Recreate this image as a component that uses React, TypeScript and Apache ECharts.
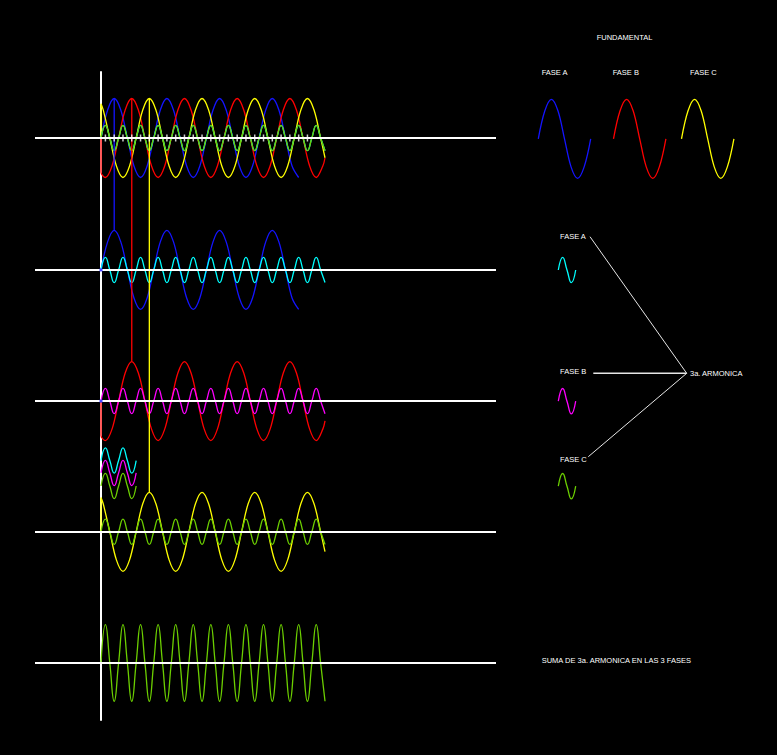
import { useEffect, useRef } from "react";
import * as echarts from "echarts";

// ---------------- DATA ----------------
// x: electrical angle in degrees of the fundamental, y: per-unit value

// Fundamental, phase A (blue): starts at 0, ends on a trough at 1350°
const phaseA: [number, number][] = [
  [0, 0], [45, 0.71], [90, 1], [135, 0.71], [180, 0], [225, -0.71], [270, -1], [315, -0.71],
  [360, 0], [405, 0.71], [450, 1], [495, 0.71], [540, 0], [585, -0.71], [630, -1], [675, -0.71],
  [720, 0], [765, 0.71], [810, 1], [855, 0.71], [900, 0], [945, -0.71], [990, -1], [1035, -0.71],
  [1080, 0], [1125, 0.71], [1170, 1], [1215, 0.71], [1260, 0], [1305, -0.71], [1350, -1],
];

// Fundamental, phase B (red): lags A by 120°
const phaseB: [number, number][] = [
  [0, 0], [0, -0.87], [30, -1], [75, -0.71], [120, 0], [165, 0.71], [210, 1], [255, 0.71], [300, 0], [345, -0.71],
  [390, -1], [435, -0.71], [480, 0], [525, 0.71], [570, 1], [615, 0.71], [660, 0], [705, -0.71],
  [750, -1], [795, -0.71], [840, 0], [885, 0.71], [930, 1], [975, 0.71], [1020, 0], [1065, -0.71],
  [1110, -1], [1155, -0.71], [1200, 0], [1245, 0.71], [1290, 1], [1335, 0.71], [1380, 0], [1425, -0.71],
  [1470, -1], [1515, -0.71], [1530, -0.5],
];

// Fundamental, phase C (yellow): leads A by 120°
const phaseC: [number, number][] = [
  [0, 0], [0, 0.87], [15, 0.71], [60, 0], [105, -0.71], [150, -1], [195, -0.71], [240, 0], [285, 0.71], [330, 1],
  [375, 0.71], [420, 0], [465, -0.71], [510, -1], [555, -0.71], [600, 0], [645, 0.71], [690, 1],
  [735, 0.71], [780, 0], [825, -0.71], [870, -1], [915, -0.71], [960, 0], [1005, 0.71], [1050, 1],
  [1095, 0.71], [1140, 0], [1185, -0.71], [1230, -1], [1275, -0.71], [1320, 0], [1365, 0.71], [1410, 1],
  [1455, 0.71], [1500, 0], [1530, -0.5],
];

// Third harmonic readings, one value every 30° of the fundamental (0° … 1530°)
const HARMONIC_STEP_DEG = 30;
const thirdHarmonicA = [
  0, 0.32, 0, -0.32, 0, 0.32, 0, -0.32, 0, 0.32, 0, -0.32, 0, 0.32, 0, -0.32,
  0, 0.32, 0, -0.32, 0, 0.32, 0, -0.32, 0, 0.32, 0, -0.32, 0, 0.32, 0, -0.32,
  0, 0.32, 0, -0.32, 0, 0.32, 0, -0.32, 0, 0.32, 0, -0.32, 0, 0.32, 0, -0.32,
  0, 0.32, 0, -0.32,
];
const thirdHarmonicB = [
  0, 0.32, 0, -0.32, 0, 0.32, 0, -0.32, 0, 0.32, 0, -0.32, 0, 0.32, 0, -0.32,
  0, 0.32, 0, -0.32, 0, 0.32, 0, -0.32, 0, 0.32, 0, -0.32, 0, 0.32, 0, -0.32,
  0, 0.32, 0, -0.32, 0, 0.32, 0, -0.32, 0, 0.32, 0, -0.32, 0, 0.32, 0, -0.32,
  0, 0.32, 0, -0.32,
];
const thirdHarmonicC = [
  0, 0.32, 0, -0.32, 0, 0.32, 0, -0.32, 0, 0.32, 0, -0.32, 0, 0.32, 0, -0.32,
  0, 0.32, 0, -0.32, 0, 0.32, 0, -0.32, 0, 0.32, 0, -0.32, 0, 0.32, 0, -0.32,
  0, 0.32, 0, -0.32, 0, 0.32, 0, -0.32, 0, 0.32, 0, -0.32, 0, 0.32, 0, -0.32,
  0, 0.32, 0, -0.32,
];
// Sum of the third harmonics of the 3 phases
const thirdHarmonicSum = [
  0, 0.97, 0, -0.97, 0, 0.97, 0, -0.97, 0, 0.97, 0, -0.97, 0, 0.97, 0, -0.97,
  0, 0.97, 0, -0.97, 0, 0.97, 0, -0.97, 0, 0.97, 0, -0.97, 0, 0.97, 0, -0.97,
  0, 0.97, 0, -0.97, 0, 0.97, 0, -0.97, 0, 0.97, 0, -0.97, 0, 0.97, 0, -0.97,
  0, 0.97, 0, -0.97,
];
// Short overlay showing the three harmonics in phase (0° … 240°)
const harmonicDetailA = [0, 0.32, 0, -0.32, 0, 0.32, 0, -0.32, 0];
const harmonicDetailB = [0, 0.32, 0, -0.32, 0, 0.32, 0, -0.32, 0];
const harmonicDetailC = [0, 0.32, 0, -0.32, 0, 0.32, 0, -0.32, 0];

// Tick marks on the first axis (harmonic peaks), degrees
const harmonicTicks = [
  30, 90, 150, 210, 270, 330, 390, 450, 510, 570, 630, 690,
  750, 810, 870, 930, 990, 1050, 1110, 1170, 1230, 1290, 1350, 1410,
];

// Peaks of each phase, joined by vertical lines (degrees)
const peakAngleA = 90;
const peakAngleB = 210;
const peakAngleC = 330;

// Legend samples: one cycle each (own degrees)
const fundamentalCycle: [number, number][] = [
  [0, 0], [45, 0.71], [90, 1], [135, 0.71], [180, 0], [225, -0.71], [270, -1], [315, -0.71], [360, 0],
];
const harmonicCycle: [number, number][] = [[0, 0], [90, 1], [180, 0], [270, -1], [360, 0]];

// Texts
const titleFund = "FUNDAMENTAL";
const phaseLabels = ["FASE A", "FASE B", "FASE C"];
const harmonicLabel = "3a. ARMONICA";
const sumLabel = "SUMA DE 3a. ARMONICA EN LAS 3 FASES";

// ---------------- LAYOUT / STYLE ----------------
const W = 777;
const H = 755;
const MAIN = { left: 35, top: 72, width: 461, height: 648 };
const X_MIN = -451;
const X_MAX = 2698;
const Y_MIN = -14.734;
const Y_MAX = 1.671;
const PANEL_BASE = [0, -3.34, -6.66, -9.97, -13.29];
const DETAIL_BASE = [-8.165, -8.48, -8.81];

const C_BLUE = "#1414ff";
const C_RED = "#ff0000";
const C_YELLOW = "#ffff00";
const C_CYAN = "#00ffff";
const C_MAGENTA = "#ff00ff";
const C_GREEN = "#6ccf00";
const LW = 1.3;
const FONT = '7.5px "Liberation Sans", Arial, sans-serif';

const shift = (d: [number, number][], base: number) => d.map(([x, y]) => [x, y + base]);
const stepPairs = (vals: number[], step: number): [number, number][] => vals.map((v, i) => [i * step, v]);

export default function App() {
  const ref = useRef<HTMLDivElement>(null);

  useEffect(() => {
    if (!ref.current) return;
    const chart = echarts.init(ref.current, undefined, { renderer: "svg" });

    const curve = (data: number[][], color: string, smooth = 0.35, extra: any = {}) => ({
      type: "line",
      xAxisIndex: 0,
      yAxisIndex: 0,
      data,
      symbol: "none",
      showSymbol: false,
      smooth,
      clip: false,
      silent: true,
      lineStyle: { color, width: LW },
      ...extra,
    });

    const harmonic = (vals: number[], base: number, color: string) =>
      curve(shift(stepPairs(vals, HARMONIC_STEP_DEG), base), color, 0.5);

    const vLine = (deg: number, fromBase: number, toBase: number, color: string) =>
      curve([[deg, 1 + fromBase], [deg, 1 + toBase]], color, 0, { smooth: false });

    // small legend grids (right side)
    const smallGrids = [
      { left: 538.3, top: 99.3, width: 52.4, height: 79 },
      { left: 613.5, top: 99.3, width: 52.4, height: 79 },
      { left: 681.5, top: 99.3, width: 52.4, height: 79 },
      { left: 558.3, top: 257.3, width: 17.4, height: 25.4 },
      { left: 558.3, top: 388.5, width: 17.4, height: 25.4 },
      { left: 558.3, top: 473.5, width: 17.4, height: 25.4 },
    ];
    const smallColors = [C_BLUE, C_RED, C_YELLOW, C_CYAN, C_MAGENTA, C_GREEN];
    const smallData = [fundamentalCycle, fundamentalCycle, fundamentalCycle, harmonicCycle, harmonicCycle, harmonicCycle];

    const hiddenAxis = { show: false };
    const grids: any[] = [
      { ...MAIN, containLabel: false, outerBoundsMode: "none" },
      ...smallGrids.map((g) => ({ ...g, containLabel: false, outerBoundsMode: "none" })),
    ];
    const xAxes: any[] = [
      {
        type: "value",
        gridIndex: 0,
        min: X_MIN,
        max: X_MAX,
        axisLine: { show: false },
        axisTick: { show: false },
        axisLabel: { show: false },
        splitLine: { show: false },
      },
      ...smallGrids.map((_, i) => ({ type: "value", gridIndex: i + 1, min: 0, max: 360, ...hiddenAxis })),
    ];
    const yAxes: any[] = [
      {
        type: "value",
        gridIndex: 0,
        min: Y_MIN,
        max: Y_MAX,
        axisLine: { show: true, onZero: true, lineStyle: { color: "#ffffff", width: 2 } },
        axisTick: { show: false },
        axisLabel: { show: false },
        splitLine: { show: false },
      },
      ...smallGrids.map((_, i) => ({ type: "value", gridIndex: i + 1, min: -1, max: 1, ...hiddenAxis })),
    ];

    const series: any[] = [
      // Panel 1: three fundamentals + third harmonics
      curve(shift(phaseA, PANEL_BASE[0]), C_BLUE),
      curve(shift(phaseB, PANEL_BASE[0]), C_RED),
      curve(shift(phaseC, PANEL_BASE[0]), C_YELLOW),
      harmonic(thirdHarmonicA, PANEL_BASE[0], C_CYAN),
      harmonic(thirdHarmonicC, PANEL_BASE[0], C_GREEN),
      // Panel 2: phase A
      curve(shift(phaseA, PANEL_BASE[1]), C_BLUE),
      harmonic(thirdHarmonicA, PANEL_BASE[1], C_CYAN),
      // Panel 3: phase B
      curve(shift(phaseB, PANEL_BASE[2]), C_RED),
      harmonic(thirdHarmonicB, PANEL_BASE[2], C_MAGENTA),
      // detail of the three harmonics in phase
      harmonic(harmonicDetailA, DETAIL_BASE[0], C_CYAN),
      harmonic(harmonicDetailB, DETAIL_BASE[1], C_MAGENTA),
      harmonic(harmonicDetailC, DETAIL_BASE[2], C_GREEN),
      // Panel 4: phase C
      curve(shift(phaseC, PANEL_BASE[3]), C_YELLOW),
      harmonic(thirdHarmonicC, PANEL_BASE[3], C_GREEN),
      // Panel 5: sum of the third harmonics
      harmonic(thirdHarmonicSum, PANEL_BASE[4], C_GREEN),
      // vertical lines joining the peaks
      vLine(peakAngleA, PANEL_BASE[0], PANEL_BASE[1], C_BLUE),
      vLine(peakAngleB, PANEL_BASE[0], PANEL_BASE[2], C_RED),
      vLine(peakAngleC, PANEL_BASE[0], PANEL_BASE[3], C_YELLOW),
      // baselines (axes of each panel)
      {
        type: "line",
        xAxisIndex: 0,
        yAxisIndex: 0,
        data: [],
        silent: true,
        z: 5,
        markLine: {
          silent: true,
          symbol: "none",
          animation: false,
          label: { show: false },
          lineStyle: { color: "#ffffff", width: 2, type: "solid" },
          emphasis: { disabled: true },
          data: PANEL_BASE.map((b) => ({ yAxis: b })),
        },
      },
      // tick marks on the first axis
      {
        type: "scatter",
        xAxisIndex: 0,
        yAxisIndex: 0,
        data: harmonicTicks.map((t) => [t, PANEL_BASE[0]]),
        symbol: "rect",
        symbolSize: [1.5, 7],
        itemStyle: { color: "#ffffff" },
        silent: true,
        z: 6,
      },
      // origin dots
      {
        type: "scatter",
        xAxisIndex: 0,
        yAxisIndex: 0,
        data: [[0, PANEL_BASE[1]], [0, PANEL_BASE[2]]],
        symbol: "rect",
        symbolSize: 3,
        itemStyle: { color: C_BLUE },
        silent: true,
        z: 7,
      },
      // legend samples
      ...smallGrids.map((_, i) => ({
        type: "line",
        xAxisIndex: i + 1,
        yAxisIndex: i + 1,
        data: smallData[i],
        symbol: "none",
        showSymbol: false,
        smooth: i < 3 ? 0.35 : 0.5,
        clip: false,
        silent: true,
        lineStyle: { color: smallColors[i], width: LW },
      })),
    ];

    const txt = (text: string, x: number, y: number) => ({
      type: "text",
      x,
      y,
      silent: true,
      style: { text, fill: "#ffffff", font: FONT, textAlign: "left", verticalAlign: "middle", textVerticalAlign: "middle" },
    });
    const ln = (x1: number, y1: number, x2: number, y2: number, w = 1) => ({
      type: "line",
      silent: true,
      shape: { x1, y1, x2, y2 },
      style: { stroke: "#e6e6e6", lineWidth: w },
    });

    chart.setOption({
      animation: false,
      backgroundColor: "#000000",
      grid: grids,
      xAxis: xAxes,
      yAxis: yAxes,
      series,
      graphic: [
        txt(titleFund, 596.7, 37.5),
        txt(phaseLabels[0], 541.7, 72.5),
        txt(phaseLabels[1], 612.7, 72.5),
        txt(phaseLabels[2], 690, 72.5),
        txt(phaseLabels[0], 560, 236.7),
        txt(phaseLabels[1], 560, 371.7),
        txt(phaseLabels[2], 560, 459.3),
        txt(harmonicLabel, 690, 373.3),
        txt(sumLabel, 541.7, 660),
        ln(590, 236.7, 686.7, 373.3),
        ln(593.3, 373.3, 686.7, 373.3, 1.6),
        ln(588.3, 456.7, 686.7, 373.3),
      ],
    });

    return () => chart.dispose();
  }, []);

  return (
    <div
      ref={ref}
      style={{ position: "absolute", left: 0, top: 0, width: W, height: H, background: "#000" }}
    />
  );
}
